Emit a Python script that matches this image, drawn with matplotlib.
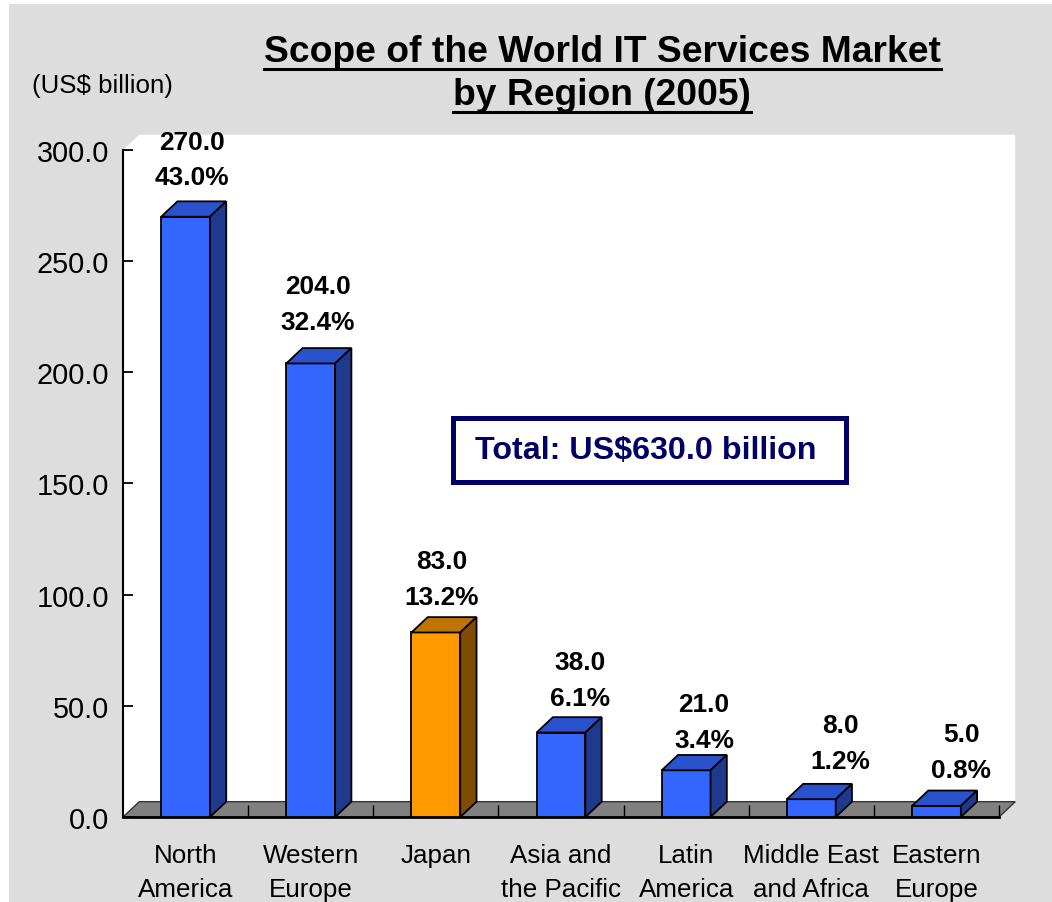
import matplotlib
matplotlib.use('Agg')
import matplotlib.pyplot as plt
import numpy as np
from matplotlib.patches import Polygon, Rectangle
from matplotlib.lines import Line2D

plt.rcParams['font.family'] = ['Liberation Sans', 'DejaVu Sans']

# data
regions = ['North\nAmerica', 'Western\nEurope', 'Japan', 'Asia and\nthe Pacific',
           'Latin\nAmerica', 'Middle East\nand Africa', 'Eastern\nEurope']
market = [270.0, 204.0, 83.0, 38.0, 21.0, 8.0, 5.0]
share = [43.0, 32.4, 13.2, 6.1, 3.4, 1.2, 0.8]
total = 630.0
highlight = 'Japan'
yticks = [0, 50, 100, 150, 200, 250, 300]

# label nudges in pixels (x, gap above bar top)
label_offsets = [(6, 17), (7, 19), (6, 13), (19, 12), (18, 8), (29, 16), (25, 14)]

W, H = 1052, 903
fig = plt.figure(figsize=(W / 100, H / 100), dpi=100, facecolor='#DDDDDD')
fig.patches.append(Rectangle((0, 1 - 5 / H), 1, 5 / H, transform=fig.transFigure,
                             fc='white', ec='none', zorder=-1))
fig.patches.append(Rectangle((0, 0), 9 / W, 1, transform=fig.transFigure,
                             fc='white', ec='none', zorder=-1))

ax = fig.add_axes([123 / W, (H - 818) / H, 876 / W, 667 / H])
ax.set_facecolor('none')
n = len(regions)
x_lo, x_hi = -0.5, n - 0.5
ymax = yticks[-1]
ax.set_xlim(x_lo, x_hi)
ax.set_ylim(0, ymax)

# 3d depth in data units
dx, dy = 0.13, 6.9
bw = 0.39

# back wall + floor
ax.add_patch(Polygon([(x_lo, 0), (x_lo, ymax), (x_lo + dx, ymax + dy), (x_hi + dx, ymax + dy),
                      (x_hi + dx, dy), (x_hi, 0)], closed=True, fc='white', ec='none',
                     zorder=0, clip_on=False))
ax.add_patch(Polygon([(x_lo, 0), (x_lo + dx, dy), (x_hi + dx, dy), (x_hi, 0)], closed=True,
                     fc='#808080', ec='#333333', lw=1, zorder=1, clip_on=False))
ax.vlines(np.arange(n) + 0.5, 0, dy * 0.8, color='black', lw=1, zorder=1.5, clip_on=False)
ax.plot([x_lo, x_hi], [0, 0], color='black', lw=2, zorder=2, clip_on=False)

for i, (v, s, name) in enumerate(zip(market, share, regions)):
    if name == highlight:
        front, top, side = '#FF9900', '#BF7300', '#804C00'
    else:
        front, top, side = '#3366FF', '#2952CC', '#1F3A8C'
    x0, x1 = i - bw / 2, i + bw / 2
    faces = [
        ([(x0, 0), (x1, 0), (x1, v), (x0, v)], front),
        ([(x0, v), (x1, v), (x1 + dx, v + dy), (x0 + dx, v + dy)], top),
        ([(x1, 0), (x1 + dx, dy), (x1 + dx, v + dy), (x1, v)], side),
    ]
    for pts, c in faces:
        ax.add_patch(Polygon(pts, closed=True, fc=c, ec='black', lw=1.3, zorder=3,
                             clip_on=False))
    ox, oy = label_offsets[i]
    ax.annotate(f'{v:.1f}\n{s:.1f}%', xy=(i, v + dy), xytext=(ox, oy - 5),
                textcoords='offset pixels', ha='center', va='bottom',
                fontsize=18.9, fontweight='bold', linespacing=1.62, zorder=4,
                annotation_clip=False)

# axes styling
for sp in ['top', 'right', 'bottom']:
    ax.spines[sp].set_visible(False)
ax.spines['left'].set_linewidth(1.5)
ax.spines['left'].set_zorder(2.5)
ax.set_yticks(yticks)
ax.set_yticklabels([f'{t:.1f}' for t in yticks])
ax.tick_params(axis='y', direction='in', length=7.2, width=1.3, labelsize=20.8, pad=10)
ax.set_xticks(np.arange(n))
ax.set_xticklabels(regions, fontsize=18.7, linespacing=1.5)
ax.tick_params(axis='x', length=0, pad=19)

# unit label
fig.text(32 / W, 1 - 93 / H, '(US$ billion)', ha='left', va='baseline', fontsize=18.6)

# underlined two-line title
renderer = fig.canvas.get_renderer()
title_lines = ['Scope of the World IT Services Market', 'by Region (2005)']
for line, base in zip(title_lines, [62, 105]):
    t = fig.text(602 / W, 1 - base / H, line, ha='center', va='baseline',
                 fontsize=26.8, fontweight='bold')
    bb = t.get_window_extent(renderer)
    fig.add_artist(Line2D([bb.x0 / W, bb.x1 / W], [1 - (base + 7.5) / H] * 2,
                          transform=fig.transFigure, color='black', lw=2.2))

# total box
navy = '#000066'
fig.patches.append(Rectangle((452.5 / W, 1 - 482.5 / H), 393 / W, 64 / H,
                             transform=fig.transFigure, fc='white', ec=navy, lw=3.6,
                             zorder=5))
fig.text(646 / W, 1 - 451 / H, f'Total: US${total:.1f} billion', ha='center',
         va='center', fontsize=23.2, fontweight='bold', color=navy, zorder=6)

fig.savefig('out.png', dpi=100, facecolor=fig.get_facecolor())
